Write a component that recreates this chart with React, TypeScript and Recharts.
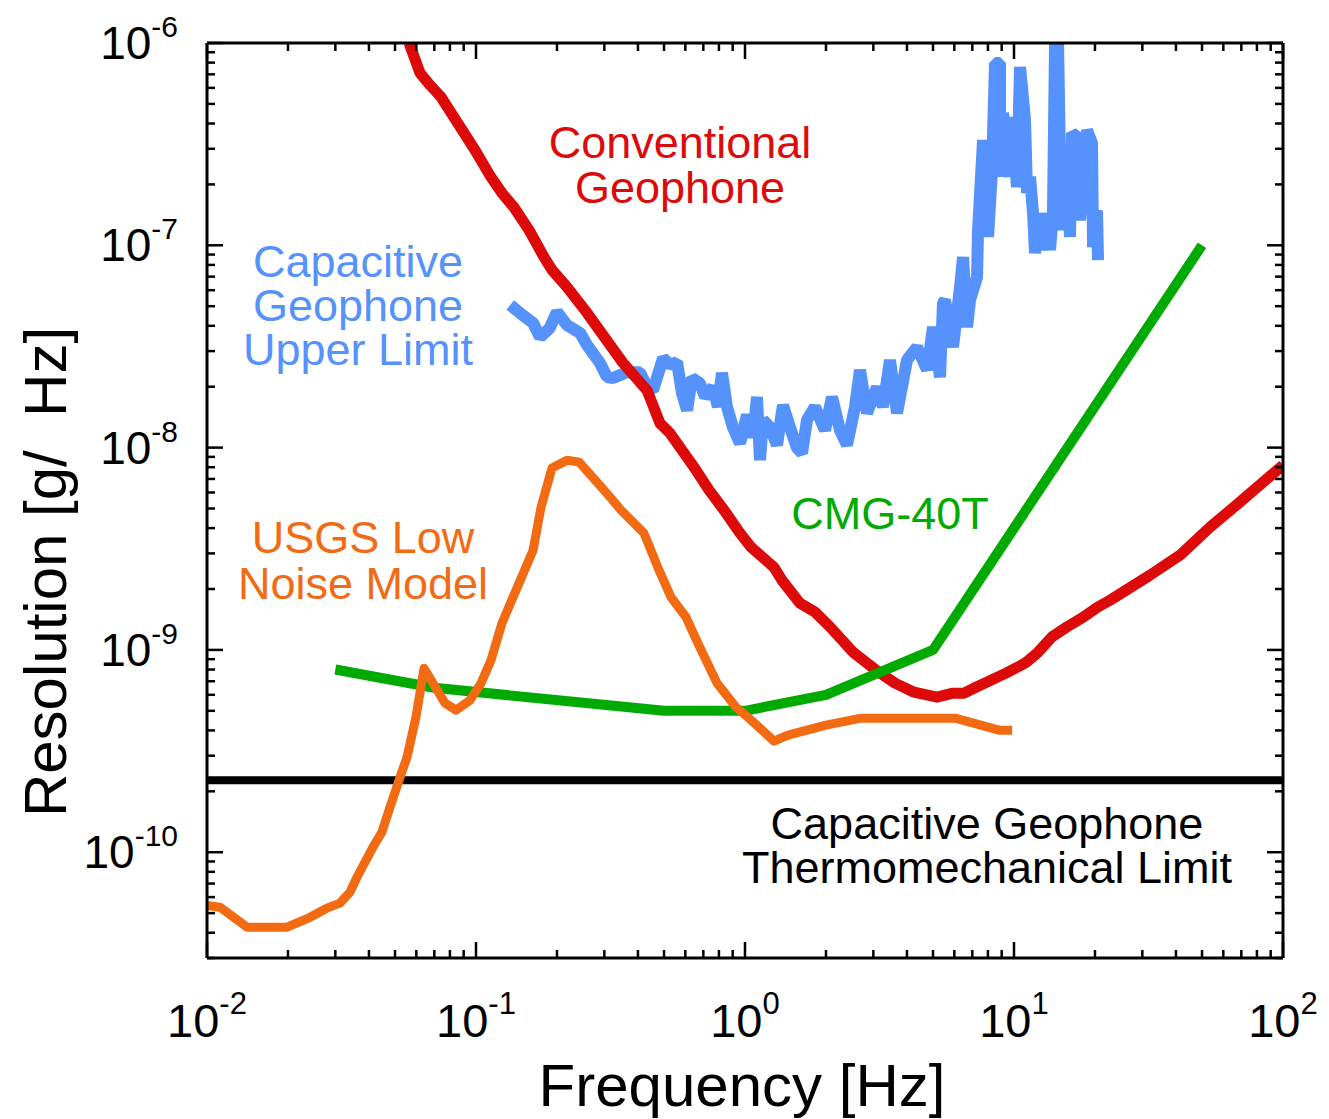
import React from 'react';
import { LineChart, Line, XAxis, YAxis, Customized } from 'recharts';

const FONT = '"Liberation Sans", Arial, Helvetica, sans-serif';

const xTicks = [
  0.01, 0.02, 0.03, 0.04, 0.05, 0.06, 0.07, 0.08, 0.09,
  0.1, 0.2, 0.3, 0.4, 0.5, 0.6, 0.7, 0.8, 0.9,
  1, 2, 3, 4, 5, 6, 7, 8, 9,
  10, 20, 30, 40, 50, 60, 70, 80, 90,
  100,
];

const yTicks = [
  3e-11, 4e-11, 5e-11, 6e-11, 7e-11, 8e-11, 9e-11,
  1e-10, 2e-10, 3e-10, 4e-10, 5e-10, 6e-10, 7e-10, 8e-10, 9e-10,
  1e-9, 2e-9, 3e-9, 4e-9, 5e-9, 6e-9, 7e-9, 8e-9, 9e-9,
  1e-8, 2e-8, 3e-8, 4e-8, 5e-8, 6e-8, 7e-8, 8e-8, 9e-8,
  1e-7, 2e-7, 3e-7, 4e-7, 5e-7, 6e-7, 7e-7, 8e-7, 9e-7,
  1e-6,
];

// [frequency (Hz), resolution (g/rtHz)]
const capacitiveUpper = [
  [0.134, 5.07e-8], [0.146, 4.62e-8], [0.163, 4.13e-8], [0.173, 3.52e-8],
  [0.188, 3.9e-8], [0.2, 4.68e-8], [0.218, 4.03e-8], [0.244, 3.68e-8],
  [0.259, 3.21e-8], [0.289, 2.62e-8], [0.307, 2.23e-8], [0.323, 2.21e-8],
  [0.364, 2.36e-8], [0.407, 2.36e-8], [0.432, 1.99e-8], [0.455, 1.92e-8],
  [0.496, 2.77e-8], [0.526, 2.56e-8], [0.559, 2.65e-8], [0.583, 1.86e-8],
  [0.609, 1.53e-8], [0.635, 2.21e-8], [0.68, 2.08e-8], [0.71, 1.78e-8],
  [0.76, 1.99e-8], [0.793, 1.59e-8], [0.821, 2.34e-8], [0.857, 1.59e-8],
  [0.902, 1.26e-8], [0.958, 1.05e-8], [1.017, 1.45e-8], [1.071, 1.13e-8],
  [1.108, 1.78e-8], [1.137, 8.67e-9], [1.167, 1.37e-8], [1.238, 1.26e-8],
  [1.315, 1.03e-8], [1.384, 1.62e-8], [1.47, 1.26e-8], [1.561, 9.94e-9],
  [1.629, 9.39e-9], [1.7, 1.37e-8], [1.82, 1.59e-8], [1.983, 1.22e-8],
  [2.106, 1.78e-8], [2.255, 1.22e-8], [2.394, 1.03e-8], [2.564, 1.59e-8],
  [2.676, 2.42e-8], [2.841, 1.48e-8], [3.095, 1.99e-8], [3.258, 1.59e-8],
  [3.459, 2.71e-8], [3.674, 1.48e-8], [4.002, 2.71e-8], [4.359, 3.14e-8],
  [4.75, 2.42e-8], [5.0, 3.94e-8], [5.308, 2.23e-8], [5.446, 5.18e-8],
  [5.54, 5.36e-8], [5.933, 3.14e-8], [6.301, 6.22e-8], [6.465, 8.75e-8],
  [6.69, 3.94e-8], [6.864, 5.36e-8], [7.288, 6.97e-8], [7.35, 1.19e-7],
  [7.672, 3.31e-7], [8.007, 1.1e-7], [8.286, 2.36e-7], [8.501, 7.96e-7],
  [8.872, 7.96e-7], [8.872, 2.18e-7], [9.103, 4.51e-7], [9.663, 2.18e-7],
  [9.831, 4.31e-7], [10.26, 1.94e-7], [10.53, 7.61e-7], [10.99, 4.16e-7],
  [11.18, 1.81e-7], [11.47, 2.18e-7], [11.77, 1.44e-7], [11.97, 9.15e-8],
  [12.5, 1.44e-7], [12.82, 9.47e-8], [13.27, 1.44e-7], [13.61, 9.47e-8],
  [13.96, 1.44e-7], [14.21, 1e-6], [14.58, 1e-6], [14.83, 2.55e-7],
  [15.21, 1.19e-7], [15.74, 2.36e-7], [16.15, 1.1e-7], [16.43, 3.59e-7],
  [17.15, 3.43e-7], [17.6, 1.33e-7], [18.06, 1.88e-7], [18.68, 3.71e-7],
  [19.5, 3.2e-7], [19.67, 9.8e-8], [20.35, 1.49e-7], [20.53, 8.45e-8],
];

const conventionalGeophone = [
  [0.0564, 1e-6], [0.0619, 7.11e-7], [0.0675, 6.19e-7], [0.0741, 5.41e-7],
  [0.0991, 2.96e-7], [0.1137, 2.17e-7], [0.125, 1.81e-7], [0.1384, 1.54e-7],
  [0.1574, 1.19e-7], [0.179, 8.74e-8], [0.1918, 7.55e-8], [0.218, 6.22e-8],
  [0.2588, 4.63e-8], [0.352, 2.62e-8], [0.4323, 1.92e-8], [0.483, 1.32e-8],
  [0.526, 1.18e-8], [0.646, 8.01e-9], [0.7345, 6.17e-9], [0.8355, 4.91e-9],
  [0.958, 3.78e-9], [1.053, 3.22e-9], [1.282, 2.56e-9], [1.372, 2.21e-9],
  [1.602, 1.7e-9], [1.82, 1.54e-9], [2.07, 1.3e-9], [2.35, 1.08e-9],
  [2.52, 9.75e-10], [3.07, 7.94e-10], [3.61, 6.85e-10], [4.25, 6.18e-10],
  [5.17, 5.84e-10], [5.93, 6.11e-10], [6.52, 6.11e-10], [7.22, 6.54e-10],
  [9.34, 7.68e-10], [10.99, 8.6e-10], [12.18, 9.63e-10], [13.84, 1.16e-9],
  [15.74, 1.3e-9], [18.06, 1.45e-9], [20.5, 1.63e-9], [22.75, 1.76e-9],
  [32.0, 2.34e-9], [41.4, 2.94e-9], [53.5, 4.04e-9], [69.2, 5.38e-9],
  [100, 8.19e-9],
];

const cmg40t = [
  [0.03, 8e-10], [0.07, 6.5e-10], [0.5, 5e-10], [1, 5e-10],
  [2, 6e-10], [5, 1e-9], [50, 1e-7],
];

const thermomechanical = [
  [0.01, 2.27e-10], [100, 2.27e-10],
];

const usgsLowNoise = [
  [0.01, 5.45e-11], [0.01117, 5.35e-11], [0.01409, 4.26e-11], [0.01984, 4.26e-11],
  [0.02415, 4.77e-11], [0.0279, 5.29e-11], [0.0312, 5.6e-11], [0.034, 6.34e-11],
  [0.0361, 7.52e-11], [0.0414, 1.06e-10], [0.0447, 1.26e-10], [0.0479, 1.67e-10],
  [0.0522, 2.35e-10], [0.0554, 2.95e-10], [0.0598, 4.65e-10], [0.0641, 8.12e-10],
  [0.0767, 5.46e-10], [0.0843, 5.04e-10], [0.095, 5.64e-10], [0.1044, 6.85e-10],
  [0.1137, 8.89e-10], [0.125, 1.36e-9], [0.163, 3.11e-9], [0.1745, 5.08e-9],
  [0.1916, 7.92e-9], [0.218, 8.67e-9], [0.2415, 8.48e-9], [0.284, 6.67e-9],
  [0.315, 5.69e-9], [0.346, 4.91e-9], [0.421, 3.78e-9], [0.479, 2.48e-9],
  [0.531, 1.82e-9], [0.604, 1.45e-9], [0.668, 1.08e-9], [0.787, 6.85e-10],
  [0.926, 5.21e-10], [1.053, 4.5e-10], [1.282, 3.54e-10], [1.445, 3.79e-10],
  [2.0, 4.25e-10], [2.7, 4.6e-10], [6.04, 4.6e-10], [8.79, 4.01e-10],
  [9.84, 4.01e-10],
];

const toPoints = (rows: number[][]) => rows.map(([x, y]) => ({ x, y }));

const PL = 199;
const PT = 35;
const PR = 1275;
const PB = 950;
const MAJOR_LEN = 16;
const MINOR_LEN = 8;

const isMajor = (v: number) => {
  const l = Math.log10(v);
  return Math.abs(l - Math.round(l)) < 1e-6;
};

const LeftTick = (props: any) => {
  const { y, payload } = props;
  const v = payload.value;
  const major = isMajor(v);
  return (
    <g>
      <line x1={PL} x2={PL + (major ? MAJOR_LEN : MINOR_LEN)} y1={y} y2={y} stroke="#000" strokeWidth={2.5} />
      {major && (
        <text x={170} y={y + 16} textAnchor="end" fontFamily={FONT} fill="#000">
          <tspan fontSize={46}>10</tspan>
          <tspan fontSize={30} dy={-22}>{Math.round(Math.log10(v))}</tspan>
        </text>
      )}
    </g>
  );
};

const RightTick = (props: any) => {
  const { y, payload } = props;
  const major = isMajor(payload.value);
  return <line x1={PR} x2={PR - (major ? MAJOR_LEN : MINOR_LEN)} y1={y} y2={y} stroke="#000" strokeWidth={2.5} />;
};

const BottomTick = (props: any) => {
  const { x, payload } = props;
  const v = payload.value;
  const major = isMajor(v);
  return (
    <g>
      <line x1={x} x2={x} y1={PB} y2={PB - (major ? MAJOR_LEN : MINOR_LEN)} stroke="#000" strokeWidth={2.5} />
      {major && (
        <text x={x} y={1029} textAnchor="middle" fontFamily={FONT} fill="#000">
          <tspan fontSize={47}>10</tspan>
          <tspan fontSize={31} dy={-23}>{Math.round(Math.log10(v))}</tspan>
        </text>
      )}
    </g>
  );
};

const TopTick = (props: any) => {
  const { x, payload } = props;
  const major = isMajor(payload.value);
  return <line x1={x} x2={x} y1={PT} y2={PT + (major ? MAJOR_LEN : MINOR_LEN)} stroke="#000" strokeWidth={2.5} />;
};

const RED = '#dd0a0a';
const BLUE = '#5592fb';
const GREEN = '#00aa00';
const ORANGE = '#f26a12';

const Annotations = () => (
  <g fontFamily={FONT}>
    <text x={58} y={564} transform="rotate(-90 58 564)" textAnchor="middle" fontSize={60} fill="#000">
      Resolution [g/{'\u00a0\u00a0'}Hz]
    </text>
    <text x={734} y={1098} textAnchor="middle" fontSize={60} fill="#000">Frequency [Hz]</text>

    <text x={672} y={150} textAnchor="middle" fontSize={45} fill={RED}>Conventional</text>
    <text x={672} y={195} textAnchor="middle" fontSize={45} fill={RED}>Geophone</text>

    <text x={350} y={269} textAnchor="middle" fontSize={45} fill={BLUE}>Capacitive</text>
    <text x={350} y={313} textAnchor="middle" fontSize={45} fill={BLUE}>Geophone</text>
    <text x={350} y={357} textAnchor="middle" fontSize={45} fill={BLUE}>Upper Limit</text>

    <text x={882} y={521} textAnchor="middle" fontSize={45} fill={GREEN}>CMG-40T</text>

    <text x={355} y={545} textAnchor="middle" fontSize={45} fill={ORANGE}>USGS Low</text>
    <text x={355} y={591} textAnchor="middle" fontSize={45} fill={ORANGE}>Noise Model</text>

    <text x={979} y={831} textAnchor="middle" fontSize={45} fill="#000">Capacitive Geophone</text>
    <text x={979} y={875} textAnchor="middle" fontSize={45} fill="#000">Thermomechanical Limit</text>
  </g>
);

export default function App() {
  return (
    <LineChart width={1321} height={1111} margin={{ top: 0, right: 0, bottom: 0, left: 0 }}>
      <XAxis
        dataKey="x"
        type="number"
        scale="log"
        domain={[0.01, 100]}
        allowDataOverflow
        ticks={xTicks}
        interval={0}
        height={161}
        tickSize={0}
        tickMargin={0}
        tickLine={false}
        tick={<BottomTick />}
        axisLine={{ stroke: '#000', strokeWidth: 3 }}
      />
      <XAxis
        xAxisId="top"
        orientation="top"
        dataKey="x"
        type="number"
        scale="log"
        domain={[0.01, 100]}
        allowDataOverflow
        ticks={xTicks}
        interval={0}
        height={35}
        tickSize={0}
        tickMargin={0}
        tickLine={false}
        tick={<TopTick />}
        axisLine={{ stroke: '#000', strokeWidth: 3 }}
      />
      <YAxis
        dataKey="y"
        type="number"
        scale="log"
        domain={[3e-11, 1e-6]}
        allowDataOverflow
        ticks={yTicks}
        interval={0}
        width={199}
        tickSize={0}
        tickMargin={0}
        tickLine={false}
        tick={<LeftTick />}
        axisLine={{ stroke: '#000', strokeWidth: 3 }}
      />
      <YAxis
        yAxisId="right"
        orientation="right"
        dataKey="y"
        type="number"
        scale="log"
        domain={[3e-11, 1e-6]}
        allowDataOverflow
        ticks={yTicks}
        interval={0}
        width={46}
        tickSize={0}
        tickMargin={0}
        tickLine={false}
        tick={<RightTick />}
        axisLine={{ stroke: '#000', strokeWidth: 3 }}
      />
      <Line data={toPoints(capacitiveUpper)} dataKey="y" stroke={BLUE} strokeWidth={12} dot={false} isAnimationActive={false} strokeLinejoin="bevel" />
      <Line data={toPoints(conventionalGeophone)} dataKey="y" stroke={RED} strokeWidth={11} dot={false} isAnimationActive={false} strokeLinejoin="round" />
      <Line data={toPoints(cmg40t)} dataKey="y" stroke={GREEN} strokeWidth={10} dot={false} isAnimationActive={false} strokeLinejoin="round" />
      <Line data={toPoints(thermomechanical)} dataKey="y" stroke="#000" strokeWidth={8} dot={false} isAnimationActive={false} />
      <Line data={toPoints(usgsLowNoise)} dataKey="y" stroke={ORANGE} strokeWidth={9} dot={false} isAnimationActive={false} strokeLinejoin="round" />
      <Customized component={<Annotations />} />
    </LineChart>
  );
}
